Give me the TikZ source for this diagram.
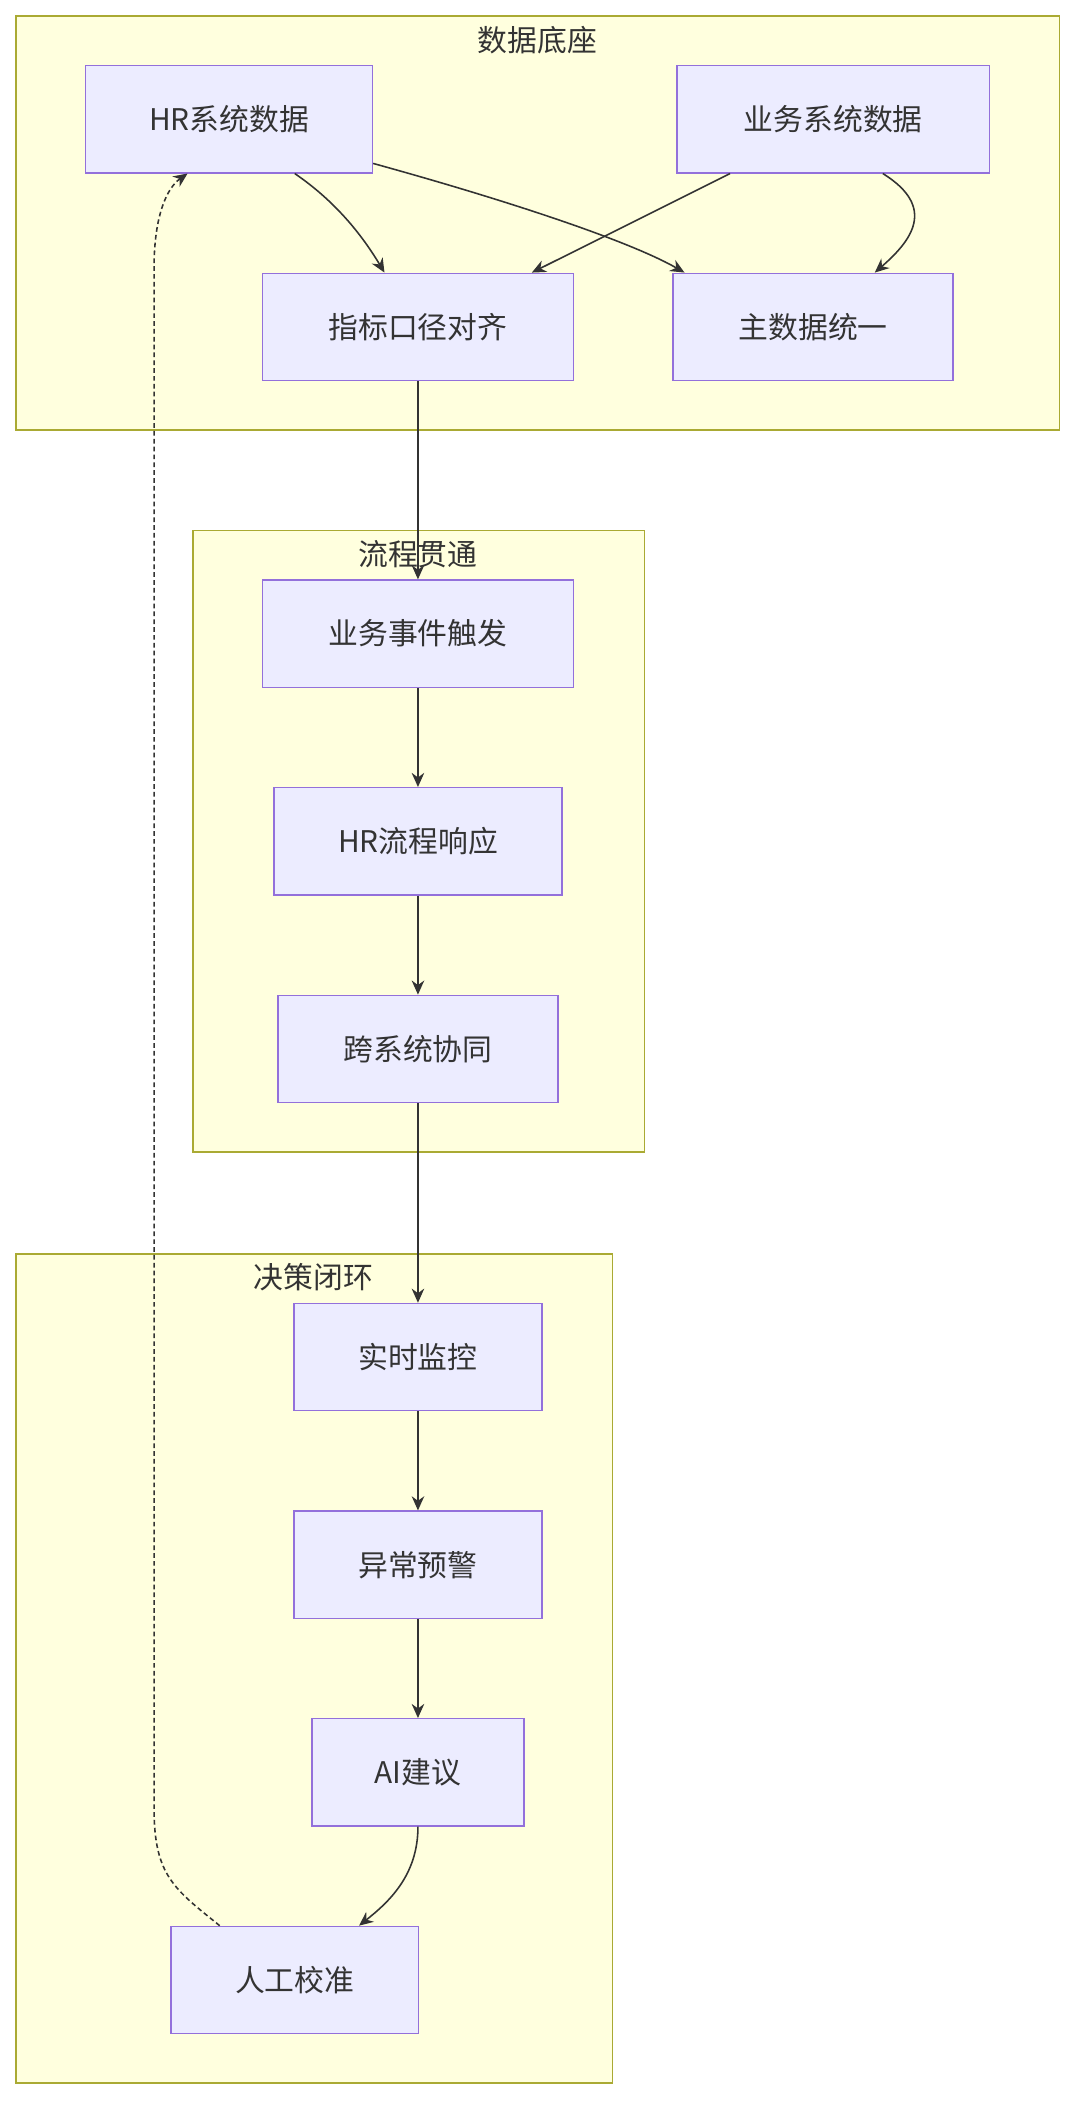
\documentclass[tikz,border=0pt]{standalone}
\usepackage{fontspec}
\setmainfont{Noto Sans CJK SC}
\usetikzlibrary{calc,arrows.meta}
\definecolor{cfill}{HTML}{FFFFDE}
\definecolor{cdraw}{HTML}{AAAA33}
\definecolor{nfill}{HTML}{ECECFF}
\definecolor{ndraw}{HTML}{9370DB}
\definecolor{edge}{HTML}{333333}
\begin{document}
\begin{tikzpicture}[x=0.03cm,y=-0.03cm,
  clus/.style={fill=cfill,draw=cdraw,line width=0.9pt},
  ttl/.style={font=\fontsize{19}{22}\selectfont,text=edge},
  box/.style={fill=nfill,draw=ndraw,line width=0.9pt,font=\fontsize{19}{22}\selectfont,text=edge,minimum height=2.4cm,inner sep=0pt},
  arr/.style={draw=edge,line width=1pt,-{Stealth[length=9pt,width=8pt]}}]
\useasboundingbox (0,0) rectangle (804,1570.6);
\draw[clus] (12,12) rectangle (791,321);
\node[ttl] (t1) at (401,30) {数据底座};
\draw[clus] (144,396) rectangle (481,860);
\node[ttl] (t2) at (312,414) {流程贯通};
\draw[clus] (12,936) rectangle (457,1555);
\node[ttl] (t3) at (234,953) {决策闭环};
\node[box,minimum width=6.42cm] (hr) at (171,89) {HR系统数据};
\node[box,minimum width=6.99cm] (yw) at (622,89) {业务系统数据};
\node[box,minimum width=6.96cm] (zb) at (312,244) {指标口径对齐};
\node[box,minimum width=6.27cm] (zs) at (607,244) {主数据统一};
\node[box,minimum width=6.96cm] (sj) at (312,473) {业务事件触发};
\node[box,minimum width=6.45cm] (lc) at (312,628) {HR流程响应};
\node[box,minimum width=6.27cm] (kx) at (312,783) {跨系统协同};
\node[box,minimum width=5.55cm] (jk) at (312,1013) {实时监控};
\node[box,minimum width=5.55cm] (yj) at (312,1168) {异常预警};
\node[box,minimum width=4.74cm] (ai) at (312,1323) {AI建议};
\node[box,minimum width=5.55cm] (rg) at (220,1478) {人工校准};
\draw[arr] ($(hr.south)+(49,0)$) .. controls (250,150) and (270,175) .. ($(zb.north)+(-25,0)$);
\draw[arr] ($(hr.east)+(0,33)$) .. controls (380,150) and (470,180) .. ($(zs.north west)+(9,0)$);
\draw[arr] ($(yw.south)+(-77,0)$) -- ($(zb.north)+(85,0)$);
\draw[arr] ($(yw.south)+(37,0)$) .. controls (700,155) and (680,180) .. ($(zs.north)+(46,0)$);
\draw[arr] (zb) -- (sj);
\draw[arr] (sj) -- (lc);
\draw[arr] (lc) -- (kx);
\draw[arr] (kx) -- (jk);
\draw[arr] (jk) -- (yj);
\draw[arr] (yj) -- (ai);
\draw[arr] (ai.south) .. controls (312,1400) and (290,1420) .. ($(rg.north)+(48,0)$);
\draw[arr,dash pattern=on 3pt off 2pt] ($(rg.north)+(-56,0)$) .. controls (130,1410) and (115,1400) .. (115,1350) -- (115,200) .. controls (115,160) and (125,140) .. ($(hr.south)+(-31,0)$);
\end{tikzpicture}
\end{document}
